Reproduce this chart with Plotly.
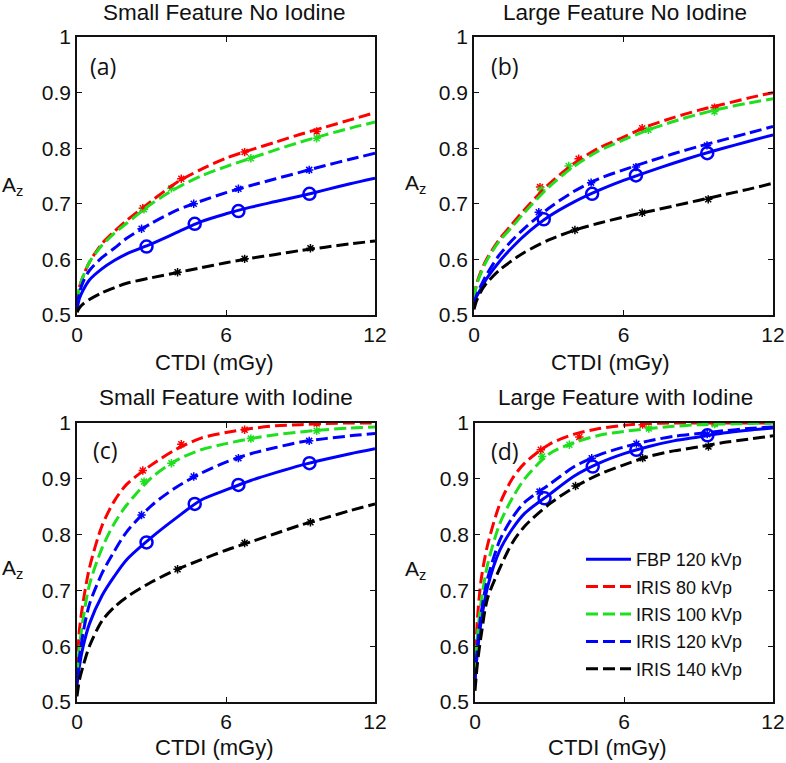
import plotly.graph_objects as go

# ---------------- data ----------------
X_FIT = [0, 0.1, 0.25, 0.5, 1, 1.5, 2, 3, 4, 5, 6, 7, 8, 9, 10, 11, 12]

SERIES = ["FBP 120 kVp", "IRIS 80 kVp", "IRIS 100 kVp", "IRIS 120 kVp", "IRIS 140 kVp"]
PANEL_TITLES = ["Small Feature No Iodine", "Large Feature No Iodine",
                "Small Feature with Iodine", "Large Feature with Iodine"]
PANEL_TAGS = ["(a)", "(b)", "(c)", "(d)"]
X_TICKS = [0, 6, 12]
Y_TICKS = [0.5, 0.6, 0.7, 0.8, 0.9, 1]
Y_TICK_TEXT = ["0.5", "0.6", "0.7", "0.8", "0.9", "1"]

# panel (a) small feature, no iodine
a_fbp = [0.51, 0.53, 0.545, 0.563, 0.583, 0.598, 0.61, 0.628, 0.648, 0.668, 0.682, 0.694, 0.704, 0.714, 0.725, 0.736, 0.746]
a_i80 = [0.52, 0.55, 0.57, 0.595, 0.628, 0.65, 0.67, 0.705, 0.738, 0.762, 0.782, 0.797, 0.811, 0.825, 0.838, 0.851, 0.864]
a_i100 = [0.525, 0.55, 0.57, 0.595, 0.625, 0.647, 0.665, 0.70, 0.728, 0.75, 0.767, 0.782, 0.797, 0.811, 0.824, 0.836, 0.847]
a_i120 = [0.515, 0.54, 0.56, 0.58, 0.603, 0.62, 0.638, 0.665, 0.688, 0.705, 0.72, 0.733, 0.745, 0.757, 0.769, 0.78, 0.791]
a_i140 = [0.505, 0.513, 0.52, 0.528, 0.54, 0.549, 0.557, 0.567, 0.576, 0.585, 0.594, 0.602, 0.609, 0.616, 0.622, 0.628, 0.633]

# panel (b) large feature, no iodine
b_fbp = [0.52, 0.533, 0.545, 0.565, 0.595, 0.62, 0.642, 0.677, 0.703, 0.724, 0.742, 0.758, 0.773, 0.787, 0.80, 0.812, 0.824]
b_i80 = [0.53, 0.555, 0.575, 0.60, 0.635, 0.662, 0.688, 0.735, 0.772, 0.80, 0.82, 0.84, 0.855, 0.868, 0.879, 0.89, 0.90]
b_i100 = [0.53, 0.553, 0.572, 0.597, 0.632, 0.657, 0.683, 0.73, 0.767, 0.795, 0.815, 0.833, 0.848, 0.861, 0.872, 0.881, 0.889]
b_i120 = [0.52, 0.535, 0.55, 0.572, 0.607, 0.633, 0.655, 0.692, 0.722, 0.745, 0.761, 0.776, 0.79, 0.803, 0.815, 0.827, 0.839]
b_i140 = [0.51, 0.525, 0.54, 0.557, 0.58, 0.597, 0.612, 0.635, 0.652, 0.665, 0.676, 0.686, 0.696, 0.706, 0.716, 0.726, 0.737]

# panel (c) small feature, with iodine
c_fbp = [0.53, 0.565, 0.60, 0.64, 0.69, 0.725, 0.755, 0.795, 0.83, 0.862, 0.88, 0.897, 0.911, 0.924, 0.935, 0.945, 0.954]
c_i80 = [0.56, 0.63, 0.68, 0.74, 0.815, 0.86, 0.89, 0.925, 0.953, 0.973, 0.983, 0.99, 0.995, 0.997, 0.999, 1.0, 1.0]
c_i100 = [0.55, 0.60, 0.65, 0.71, 0.775, 0.82, 0.853, 0.902, 0.933, 0.952, 0.963, 0.972, 0.979, 0.984, 0.988, 0.991, 0.993]
c_i120 = [0.54, 0.58, 0.625, 0.675, 0.73, 0.77, 0.805, 0.852, 0.885, 0.91, 0.93, 0.945, 0.956, 0.966, 0.972, 0.977, 0.981]
c_i140 = [0.51, 0.54, 0.565, 0.60, 0.645, 0.67, 0.688, 0.715, 0.737, 0.755, 0.772, 0.787, 0.802, 0.817, 0.83, 0.843, 0.855]

# panel (d) large feature, with iodine
d_fbp = [0.54, 0.59, 0.645, 0.705, 0.772, 0.81, 0.838, 0.872, 0.905, 0.928, 0.945, 0.958, 0.968, 0.975, 0.982, 0.987, 0.991]
d_i80 = [0.56, 0.65, 0.72, 0.78, 0.855, 0.90, 0.928, 0.962, 0.98, 0.99, 0.996, 0.999, 1.0, 1.0, 1.0, 1.0, 1.0]
d_i100 = [0.55, 0.62, 0.68, 0.745, 0.82, 0.865, 0.90, 0.945, 0.965, 0.978, 0.985, 0.99, 0.994, 0.997, 0.998, 0.999, 1.0]
d_i120 = [0.54, 0.60, 0.66, 0.72, 0.79, 0.83, 0.858, 0.89, 0.922, 0.943, 0.957, 0.968, 0.976, 0.981, 0.986, 0.99, 0.993]
d_i140 = [0.52, 0.57, 0.62, 0.685, 0.74, 0.785, 0.815, 0.855, 0.885, 0.908, 0.925, 0.94, 0.95, 0.957, 0.965, 0.971, 0.977]

# measured points (markers)
MX_FBP = [2.8, 4.74, 6.5, 9.36]
MX_I80 = [2.65, 4.2, 6.75, 9.65]
MX_I100 = [2.7, 3.8, 7.0, 9.65]
MX_I120 = [2.6, 4.7, 6.5, 9.35]
MX_I140 = [4.05, 6.75, 9.4]

am_fbp = [0.623, 0.664, 0.687, 0.718]
am_i80 = [0.692, 0.745, 0.793, 0.83]
am_i100 = [0.69, 0.728, 0.782, 0.818]
am_i120 = [0.655, 0.70, 0.727, 0.761]
am_i140 = [0.577, 0.601, 0.62]

bm_fbp = [0.672, 0.718, 0.751, 0.791]
bm_i80 = [0.73, 0.781, 0.836, 0.873]
bm_i100 = [0.725, 0.768, 0.833, 0.866]
bm_i120 = [0.685, 0.738, 0.766, 0.805]
bm_i140 = [0.653, 0.684, 0.708]

cm_fbp = [0.786, 0.855, 0.889, 0.928]
cm_i80 = [0.915, 0.962, 0.988, 0.999]
cm_i100 = [0.895, 0.928, 0.972, 0.986]
cm_i120 = [0.835, 0.904, 0.937, 0.968]
cm_i140 = [0.738, 0.785, 0.822]

dm_fbp = [0.865, 0.922, 0.952, 0.978]
dm_i80 = [0.952, 0.975, 0.997, 1.0]
dm_i100 = [0.94, 0.961, 0.99, 0.998]
dm_i120 = [0.877, 0.937, 0.963, 0.98]
dm_i140 = [0.887, 0.937, 0.958]

# ---------------- styling ----------------
COLORS = ["#0000ff", "#ff0000", "#1ee01e", "#0000ff", "#000000"]
DASHES = ["solid", "12px,5px", "12px,5px", "12px,5px", "12px,5px"]
FONT = "Liberation Sans, Arial, sans-serif"
TAGFONT = "Open Sans, sans-serif"
INK = "#111111"

panels_lines = [
    [a_fbp, a_i80, a_i100, a_i120, a_i140],
    [b_fbp, b_i80, b_i100, b_i120, b_i140],
    [c_fbp, c_i80, c_i100, c_i120, c_i140],
    [d_fbp, d_i80, d_i100, d_i120, d_i140],
]
panels_marks = [
    [am_fbp, am_i80, am_i100, am_i120, am_i140],
    [bm_fbp, bm_i80, bm_i100, bm_i120, bm_i140],
    [cm_fbp, cm_i80, cm_i100, cm_i120, cm_i140],
    [dm_fbp, dm_i80, dm_i100, dm_i120, dm_i140],
]
MARK_X = [MX_FBP, MX_I80, MX_I100, MX_I120, MX_I140]

W, H = 786, 763
# plot-area pixel boxes: (left, right, top, bottom)
boxes = [(77, 375, 37, 315), (474, 773, 37, 315), (77, 375, 423, 702), (475, 773, 423, 702)]

fig = go.Figure()
layout = dict(template="none", width=W, height=H, autosize=False,
              margin=dict(l=0, r=0, t=0, b=0, pad=0),
              paper_bgcolor="white", plot_bgcolor="white", showlegend=True)

for p in range(4):
    xa = "x" if p == 0 else f"x{p+1}"
    ya = "y" if p == 0 else f"y{p+1}"
    for s in range(5):
        fig.add_trace(go.Scatter(
            x=MARK_X[s], y=panels_marks[p][s], xaxis=xa, yaxis=ya, mode="markers",
            showlegend=False, hoverinfo="skip",
            marker=dict(symbol="circle-open" if s == 0 else "asterisk-open",
                        size=12 if s == 0 else 7,
                        color=COLORS[s], line=dict(color=COLORS[s], width=2.5 if s == 0 else 1.5))))
    for s in range(5):
        fig.add_trace(go.Scatter(
            x=X_FIT, y=panels_lines[p][s], xaxis=xa, yaxis=ya, mode="lines",
            name=SERIES[s], showlegend=(p == 3), legendgroup=SERIES[s],
            line=dict(color=COLORS[s], width=3, dash=DASHES[s], shape="spline", smoothing=0.8)))

    l, r, t, b = boxes[p]
    key = "" if p == 0 else str(p + 1)
    common = dict(showgrid=False, zeroline=False, showline=True, linecolor=INK, linewidth=1.5,
                  mirror="ticks", ticks="inside", ticklen=5, tickwidth=1.2, tickcolor=INK,
                  automargin=False, tickfont=dict(family=FONT, size=21, color=INK))
    layout["xaxis" + key] = dict(domain=[l / W, r / W], range=[0, 12], tickvals=X_TICKS,
                                 anchor="y" + key, **common)
    layout["yaxis" + key] = dict(domain=[1 - b / H, 1 - t / H], range=[0.5, 1], tickvals=Y_TICKS,
                                 ticktext=Y_TICK_TEXT, anchor="x" + key, **common)

anns = []
title_pos = [(225, 13), (625, 13), (226, 398), (625, 398)]
tag_pos = [(103, 66), (505, 66), (105, 450), (505, 451)]
az_pos = [(13, 186), (416, 184), (13, 569), (416, 570)]
ctdi_pos = [(215, 362), (610, 362), (214, 747), (607, 747)]
for p in range(4):
    tx, ty = title_pos[p]
    anns.append(dict(text=PANEL_TITLES[p], x=tx / W, y=1 - ty / H, xref="paper", yref="paper",
                     showarrow=False, xanchor="center", yanchor="middle",
                     font=dict(family=FONT, size=22.5, color=INK)))
    gx, gy = tag_pos[p]
    anns.append(dict(text=PANEL_TAGS[p], x=gx / W, y=1 - gy / H, xref="paper", yref="paper",
                     showarrow=False, xanchor="center", yanchor="middle",
                     font=dict(family=TAGFONT, size=23, color=INK)))
    zx, zy = az_pos[p]
    anns.append(dict(text="A<sub>z</sub>", x=zx / W, y=1 - zy / H, xref="paper", yref="paper",
                     showarrow=False, xanchor="center", yanchor="middle",
                     font=dict(family=FONT, size=21, color=INK)))
    cx, cy = ctdi_pos[p]
    anns.append(dict(text="CTDI (mGy)", x=cx / W, y=1 - cy / H, xref="paper", yref="paper",
                     showarrow=False, xanchor="center", yanchor="middle",
                     font=dict(family=FONT, size=22, color=INK)))
layout["annotations"] = anns
layout["legend"] = dict(x=581 / W, y=1 - 541 / H, xanchor="left", yanchor="top",
                        bgcolor="rgba(0,0,0,0)", borderwidth=0, itemwidth=45,
                        tracegroupgap=1, font=dict(family=FONT, size=18, color=INK))
fig.update_layout(**layout)
fig.write_html("out.html", config={"displayModeBar": False, "responsive": False},
               post_script="document.body.style.margin='0';document.body.style.overflow='hidden';")
